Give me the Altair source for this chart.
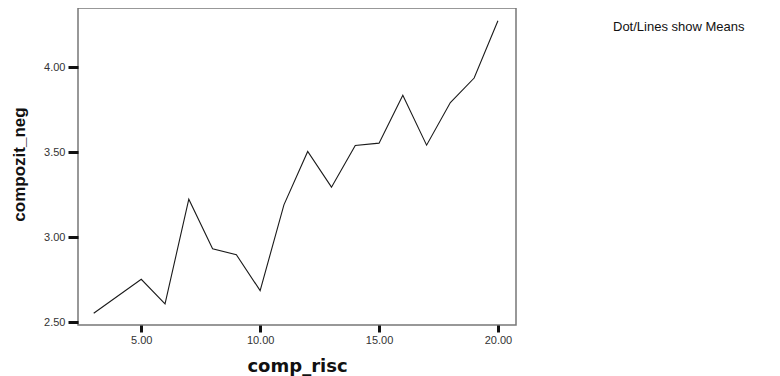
import altair as alt
import pandas as pd

comp_risc = [3, 5, 6, 7, 8, 9, 10, 11, 12, 13, 14, 15, 16, 17, 18, 19, 20]
compozit_neg = [2.553, 2.753, 2.608, 3.224, 2.933, 2.898, 2.686, 3.191, 3.505,
                3.295, 3.540, 3.554, 3.835, 3.542, 3.793, 3.937, 4.274]
x_ticks = [5, 10, 15, 20]
y_ticks = [2.5, 3.0, 3.5, 4.0]
note = ["Dot/Lines show Means"]

df = pd.DataFrame({"comp_risc": comp_risc, "compozit_neg": compozit_neg})
note_df = pd.DataFrame({"t": note})

W, H = 438, 317
font = "Liberation Sans"

line = alt.Chart(df).mark_line(color="#1a1a1a", strokeWidth=1.1).encode(
    x=alt.X("comp_risc:Q",
            scale=alt.Scale(domain=[2.34, 20.76], nice=False, zero=False),
            axis=alt.Axis(values=x_ticks, format=".2f", grid=False, domain=False,
                          tickSize=7, tickWidth=3, tickColor="#111",
                          labelFont=font, labelFontSize=11, labelColor="#333",
                          labelPadding=2,
                          title="comp_risc", titleFont="DejaVu Sans",
                          titleFontSize=18, titleFontWeight="bold", titleColor="#111",
                          titleX=W / 2, titleY=41, titleBaseline="middle",
                          titleAlign="center")),
    y=alt.Y("compozit_neg:Q",
            scale=alt.Scale(domain=[2.484, 4.349], nice=False, zero=False),
            axis=alt.Axis(values=y_ticks, format=".2f", grid=False, domain=False,
                          tickSize=10, tickWidth=3, tickColor="#111",
                          labelFont=font, labelFontSize=11, labelColor="#333",
                          labelPadding=3,
                          title="compozit_neg", titleFont=font,
                          titleFontSize=17, titleFontWeight="bold", titleColor="#111",
                          titleX=-59, titleY=156, titleAngle=-90,
                          titleBaseline="middle", titleAlign="center")),
)

txt = alt.Chart(note_df).mark_text(align="left", baseline="middle", font=font,
                                   fontSize=13, color="#111").encode(
    x=alt.value(535), y=alt.value(19), text="t:N")

chart = alt.layer(line, txt).properties(
    width=W, height=H,
    autosize=alt.AutoSizeParams(type="none"),
    padding={"left": 70, "top": 0, "right": 252, "bottom": 51},
).configure_view(stroke="#777", strokeWidth=1.5)

chart.save("out.html", embed_options={"renderer": "svg", "actions": False})
